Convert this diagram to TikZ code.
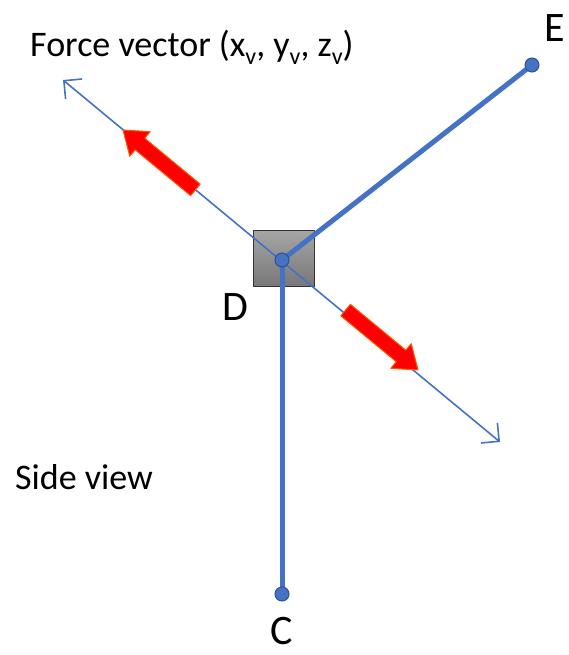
\documentclass[tikz,border=0pt]{standalone}
\usepackage{fontspec}
\setmainfont{Carlito}
\usetikzlibrary{arrows.meta}
\definecolor{lineblue}{HTML}{4472C4}
\definecolor{dotedge}{HTML}{2F528F}
\definecolor{redfill}{HTML}{FF0000}
\newcommand\subv{\raisebox{-0.22em}{\fontsize{24}{24}\selectfont v}}
\tikzset{
  dot/.style={circle, fill=lineblue, draw=dotedge, line width=1pt, minimum size=14pt, inner sep=0pt},
  member/.style={lineblue, line width=5pt},
  axisline/.style={lineblue, line width=1.6pt, {Straight Barb[length=13pt,width=26pt,line width=1.6pt]}-{Straight Barb[length=13pt,width=26pt,line width=1.6pt]}},
  redarrow/.style={fill=redfill, draw=orange!70!red, line width=1pt, line join=round},
  lbl/.style={font=\fontsize{36}{40}\selectfont, inner sep=0pt},
  biglbl/.style={font=\fontsize{42}{46}\selectfont, inner sep=0pt},
  block/.style={draw=black!80, line width=0.8pt, top color=black!35, bottom color=black!53, minimum width=61pt, minimum height=56pt, inner sep=0pt}
}
\begin{document}
\begin{tikzpicture}[x=1pt,y=-1pt]
\useasboundingbox (0,0) rectangle (569,655);
% block
\node[block] (box) at (283.5,258) {};
% thin force line
\coordinate (ftop) at (63,80);
\coordinate (fbot) at (500,442);
\draw[axisline] (ftop) -- (fbot);
% red arrows
\begin{scope}[shift={(123,130)}, rotate=140.4]
  \draw[redarrow] (0,0) -- (-22,16) -- (-22,7.5) -- (-94,7.5) -- (-94,-7.5) -- (-22,-7.5) -- (-22,-16) -- cycle;
\end{scope}
\begin{scope}[shift={(418,370)}, rotate=-39.6]
  \draw[redarrow] (0,0) -- (-22,16) -- (-22,7.5) -- (-94,7.5) -- (-94,-7.5) -- (-22,-7.5) -- (-22,-16) -- cycle;
\end{scope}
% members
\coordinate (Dc) at (282,260);
\coordinate (Ec) at (532,65);
\coordinate (Cc) at (282,594);
\draw[member] (Dc) -- (Ec);
\draw[member] (Dc) -- (Cc);
\node[dot] (D) at (Dc) {};
\node[dot] (E) at (Ec) {};
\node[dot] (C) at (Cc) {};
% labels
\node[lbl, anchor=base west] (ftxt) at (30,57) {Force vector (x\subv, y\subv, z\subv)};
\node[lbl, anchor=base west] (side) at (15,489) {Side view};
\node[biglbl, anchor=base] (Elbl) at (555,42) {E};
\node[biglbl, anchor=base] (Dlbl) at (235,320) {D};
\node[biglbl, anchor=base] (Clbl) at (282,644) {C};
\end{tikzpicture}
\end{document}
